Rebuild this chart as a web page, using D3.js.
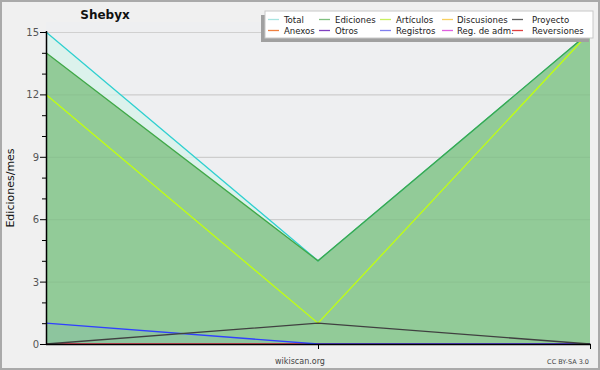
<!DOCTYPE html>
<html>
<head>
<meta charset="utf-8">
<script src="https://cdn.jsdelivr.net/npm/d3@7"></script>
<style>
  html, body { margin: 0; padding: 0; background: #f0f0f0; }
  svg { display: block; font-family: "DejaVu Sans", sans-serif; }
</style>
</head>
<body>
<div id="chart"></div>
<script>
const width = 600;
const height = 370;

// three monthly points
const periods = ["m1", "m2", "m3"];

const total = [15, 4, 15];
const ediciones = [14, 4, 15];
const articulos = [12, 1, 15];
const registros = [1, 0, 0];
const proyecto = [0, 1, 0];
const zeros = [0, 0, 0];

const yTicks = [0, 3, 6, 9, 12, 15];

const legendRows = [
  [["Total", "#a8e4e0"], ["Ediciones", "#80c080"], ["Artículos", "#c8f060"], ["Discusiones", "#f8d060"], ["Proyecto", "#606060"]],
  [["Anexos", "#f08040"], ["Otros", "#8040c0"], ["Registros", "#8080f0"], ["Reg. de adm.", "#e060e0"], ["Reversiones", "#e04040"]]
];

const svg = d3.select("#chart").append("svg")
  .attr("width", width)
  .attr("height", height);

svg.append("rect")
  .attr("x", 1).attr("y", 1)
  .attr("width", width - 2).attr("height", height - 2)
  .attr("fill", "#f0f0f0")
  .attr("stroke", "#aaaaaa")
  .attr("stroke-width", 2);

const pLeft = 46, pRight = 590, pTop = 32, pBottom = 344;

const x = d3.scalePoint().domain(periods).range([pLeft, pRight]);
const y = d3.scaleLinear().domain([0, 15]).range([pBottom, pTop]);

svg.append("rect")
  .attr("x", pLeft).attr("y", 22)
  .attr("width", pRight - pLeft).attr("height", pBottom - 22)
  .attr("fill", "#eeeff1");

// grid
svg.append("g")
  .selectAll("line")
  .data(yTicks.filter((d) => d > 0))
  .join("line")
  .attr("x1", pLeft).attr("x2", pRight)
  .attr("y1", (d) => y(d) + 0.5).attr("y2", (d) => y(d) + 0.5)
  .attr("stroke", "#d0d0d0")
  .attr("stroke-width", 1);

const area = (vals) => d3.area()
  .x((d, i) => x(periods[i]))
  .y0(y(0))
  .y1((d) => y(d))(vals);

const line = (vals) => d3.line()
  .x((d, i) => x(periods[i]))
  .y((d) => y(d))(vals);

svg.append("path").attr("d", area(total)).attr("fill", "#dcf2ec");
svg.append("path").attr("d", area(ediciones)).attr("fill", "#92cb98");
svg.append("path").attr("d", area(registros)).attr("fill", "#4060ff").attr("fill-opacity", 0.06);

// grid shows through fill faintly
svg.append("g")
  .selectAll("line")
  .data(yTicks.filter((d) => d > 0 && d < 15))
  .join("line")
  .attr("x1", pLeft).attr("x2", pRight)
  .attr("y1", (d) => y(d) + 0.5).attr("y2", (d) => y(d) + 0.5)
  .attr("stroke", "#000")
  .attr("stroke-opacity", 0.05);

const lines = [
  [zeros, "#f08040"], [zeros, "#8040c0"], [zeros, "#f8d060"], [zeros, "#e060e0"], [zeros, "#e04040"],
  [total, "#30d0d0"],
  [ediciones, "#40a848"],
  [articulos, "#c0ff10"],
  [registros, "#3040ff"],
  [proyecto, "#404040"]
];
svg.append("g")
  .selectAll("path")
  .data(lines)
  .join("path")
  .attr("d", (d) => line(d[0]))
  .attr("fill", "none")
  .attr("stroke", (d) => d[1])
  .attr("stroke-width", 1.3);

// axes
svg.append("line")
  .attr("x1", pLeft + 0.5).attr("x2", pLeft + 0.5)
  .attr("y1", pTop - 1).attr("y2", pBottom + 1)
  .attr("stroke", "#000").attr("stroke-width", 1.5);
svg.append("line")
  .attr("x1", pLeft).attr("x2", pRight + 1)
  .attr("y1", pBottom + 0.5).attr("y2", pBottom + 0.5)
  .attr("stroke", "#000").attr("stroke-width", 1.5);

svg.append("g")
  .selectAll("line")
  .data(d3.range(0, 16))
  .join("line")
  .attr("x1", (d) => d % 3 === 0 ? pLeft - 6 : pLeft - 4)
  .attr("x2", pLeft)
  .attr("y1", (d) => y(d) + 0.5).attr("y2", (d) => y(d) + 0.5)
  .attr("stroke", "#000");

svg.append("g")
  .selectAll("text")
  .data(yTicks)
  .join("text")
  .attr("x", pLeft - 7)
  .attr("y", (d) => y(d) + 4)
  .attr("text-anchor", "end")
  .style("font-size", "10px")
  .style("fill", "#555")
  .text((d) => d);

svg.append("g")
  .selectAll("line")
  .data(periods.slice(1))
  .join("line")
  .attr("x1", (d) => x(d) + 0.5).attr("x2", (d) => x(d) + 0.5)
  .attr("y1", pBottom).attr("y2", pBottom + 5)
  .attr("stroke", "#000");

svg.append("text")
  .attr("transform", `translate(14,${(pTop + pBottom) / 2}) rotate(-90)`)
  .attr("text-anchor", "middle")
  .style("font-size", "11px")
  .style("fill", "#111")
  .text("Ediciones/mes");

svg.append("text")
  .attr("x", 105).attr("y", 19)
  .attr("text-anchor", "middle")
  .style("font-size", "12px")
  .style("font-weight", "bold")
  .style("fill", "#111")
  .text("Shebyx");

svg.append("text")
  .attr("x", 300).attr("y", 364)
  .attr("text-anchor", "middle")
  .style("font-size", "8px")
  .style("fill", "#444")
  .text("wikiscan.org");

svg.append("text")
  .attr("x", 589).attr("y", 364)
  .attr("text-anchor", "end")
  .style("font-size", "6.5px")
  .style("fill", "#444")
  .text("CC BY-SA 3.0");

// legend
const lg = svg.append("g");
lg.append("rect")
  .attr("x", 261).attr("y", 15)
  .attr("width", 328).attr("height", 27)
  .attr("fill", "#a0a0a0");
lg.append("rect")
  .attr("x", 265).attr("y", 11)
  .attr("width", 328).attr("height", 27)
  .attr("fill", "#ffffff")
  .attr("stroke", "#c8c8c8");

const colX = [268, 319, 380, 442, 512];
const textX = [284, 335, 396, 457, 532];
legendRows.forEach((row, r) => {
  const ry = 19 + r * 11;
  row.forEach(([label, color], c) => {
    lg.append("line")
      .attr("x1", colX[c]).attr("x2", colX[c] + 11)
      .attr("y1", ry + 0.5).attr("y2", ry + 0.5)
      .attr("stroke", color).attr("stroke-width", 1.3);
    lg.append("text")
      .attr("x", textX[c]).attr("y", ry + 4)
      .style("font-family", "'DejaVu Sans Condensed', 'DejaVu Sans', sans-serif")
      .style("font-stretch", "condensed")
      .style("font-size", "9.5px")
      .style("fill", "#222")
      .text(label);
  });
});
</script>
</body>
</html>
